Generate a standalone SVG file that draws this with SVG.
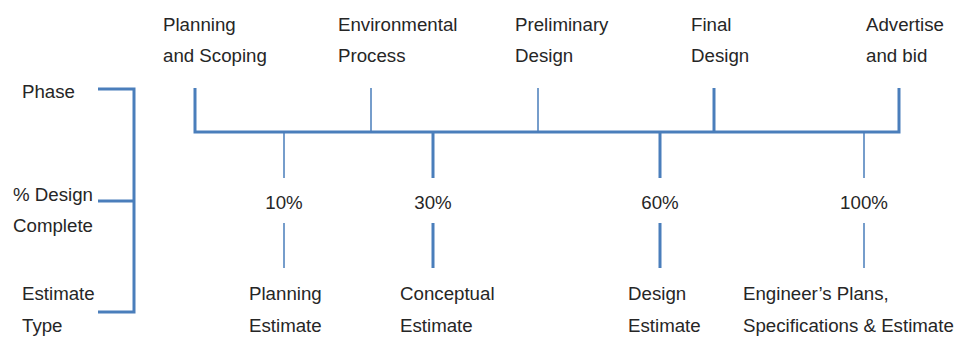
<svg xmlns="http://www.w3.org/2000/svg" width="955" height="340" viewBox="0 0 955 340">
<style>
text{font-family:"Liberation Sans",Arial,sans-serif;font-size:18.7px;fill:#262626}
.c{text-anchor:middle}
.thick{stroke:#4A7EBB;stroke-width:3;fill:none}
.thin{stroke:#4A7EBB;stroke-width:1.5;fill:none}
</style>
<rect width="955" height="340" fill="#ffffff"/>
<g id="connectors">
<path class="thick" d="M98,89 H134 V312 H98 M98,201 H134"/>
<path class="thick" d="M195,88 V132 H899 V88"/>
<path class="thin" d="M371,88 V132 M538,88 V132"/>
<path class="thick" d="M714,88 V132"/>
<path class="thin" d="M284,132 V178 M284,223 V268"/>
<path class="thick" d="M433,132 V178 M433,223 V268"/>
<path class="thick" d="M660,132 V178 M660,223 V268"/>
<path class="thin" d="M864,132 V178 M864,223 V268"/>
</g>
<g id="row-labels">
<text x="22" y="98">Phase</text>
<text x="13" y="201">% Design</text>
<text x="13" y="232">Complete</text>
<text x="22" y="300">Estimate</text>
<text x="22" y="332">Type</text>
</g>
<g id="phase-planning"><text x="163" y="31">Planning</text><text x="163" y="62">and Scoping</text></g>
<g id="phase-environmental"><text x="338" y="31">Environmental</text><text x="338" y="62">Process</text></g>
<g id="phase-preliminary"><text x="515" y="31">Preliminary</text><text x="515" y="62">Design</text></g>
<g id="phase-final"><text x="691" y="31">Final</text><text x="691" y="62">Design</text></g>
<g id="phase-advertise"><text x="866" y="31">Advertise</text><text x="866" y="62">and bid</text></g>
<g id="pct-10"><text class="c" x="284" y="209">10%</text></g>
<g id="pct-30"><text class="c" x="433" y="209">30%</text></g>
<g id="pct-60"><text class="c" x="660" y="209">60%</text></g>
<g id="pct-100"><text class="c" x="864" y="209">100%</text></g>
<g id="est-planning"><text x="249" y="300">Planning</text><text x="249" y="332">Estimate</text></g>
<g id="est-conceptual"><text x="400" y="300">Conceptual</text><text x="400" y="332">Estimate</text></g>
<g id="est-design"><text x="628" y="300">Design</text><text x="628" y="332">Estimate</text></g>
<g id="est-engineer"><text x="743" y="300">Engineer’s Plans,</text><text x="743" y="332">Specifications &amp; Estimate</text></g>
</svg>
